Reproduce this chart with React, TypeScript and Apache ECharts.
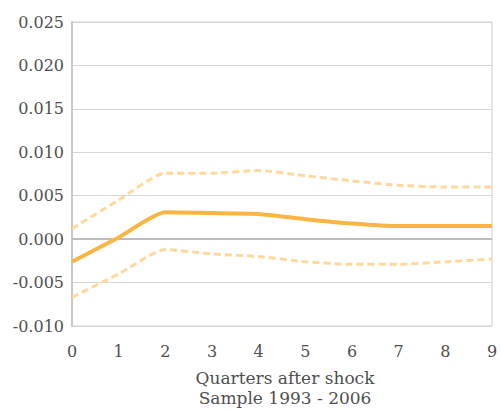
import React, { useEffect, useRef } from "react";
import * as echarts from "echarts";

const quarters = ["0", "1", "2", "3", "4", "5", "6", "7", "8", "9"];
const response = [-0.0026, 0.0002, 0.0031, 0.003, 0.0029, 0.0023, 0.0018, 0.0015, 0.0015, 0.0015];
const upperBand = [0.0012, 0.0045, 0.0076, 0.0076, 0.0079, 0.0073, 0.0067, 0.0062, 0.006, 0.006];
const lowerBand = [-0.0067, -0.004, -0.0012, -0.0017, -0.002, -0.0026, -0.0029, -0.0029, -0.0026, -0.0023];
const axisTitle = "Quarters after shock\nSample 1993 - 2006";

const FONT = "DejaVu Serif";
const TEXT = "#4F4F4F";

export default function App() {
  const ref = useRef<HTMLDivElement>(null);
  useEffect(() => {
    if (!ref.current) return;
    const chart = echarts.init(ref.current, null, { renderer: "svg" });
    const dashed = {
      type: "line",
      symbol: "none",
      smooth: 0.2,
      silent: true,
      lineStyle: { color: "#FFD89C", width: 3, type: [7, 4] },
    };
    chart.setOption({
      animation: false,
      grid: {
        left: 72,
        right: 9,
        top: 22,
        bottom: 84,
        show: true,
        borderColor: "#D0D0D0",
        borderWidth: 1,
      },
      xAxis: {
        type: "category",
        data: quarters,
        boundaryGap: false,
        axisLine: { show: false },
        axisTick: { show: false },
        splitLine: { show: false },
        axisLabel: { color: TEXT, fontFamily: FONT, fontSize: 16, margin: 17 },
      },
      yAxis: {
        type: "value",
        min: -0.01,
        max: 0.025,
        interval: 0.005,
        axisLine: { show: true, lineStyle: { color: "#C8C8C8", width: 2 } },
        axisTick: { show: false },
        splitLine: { lineStyle: { color: "#D6D6D6", width: 1 } },
        axisLabel: {
          color: TEXT,
          fontFamily: FONT,
          fontSize: 16,
          margin: 8,
          formatter: (v: number) => v.toFixed(3),
        },
      },
      graphic: [
        {
          type: "text",
          x: 285,
          y: 388,
          style: {
            text: axisTitle,
            align: "center",
            verticalAlign: "middle",
            lineHeight: 20,
            fill: TEXT,
            font: `17px "${FONT}"`,
          },
        },
      ],
      series: [
        { ...dashed, name: "upper", data: upperBand },
        { ...dashed, name: "lower", data: lowerBand },
        {
          type: "line",
          name: "response",
          symbol: "none",
          smooth: 0.2,
          lineStyle: { color: "#FBB544", width: 4 },
          data: response,
          z: 3,
          markLine: {
            silent: true,
            symbol: "none",
            label: { show: false },
            lineStyle: { color: "#BDBDBD", width: 2, type: "solid" },
            data: [{ yAxis: 0 }],
            z: 1,
          },
        },
      ],
    });
    return () => chart.dispose();
  }, []);
  return <div ref={ref} style={{ width: 501, height: 410, position: "absolute", left: 0, top: 0 }} />;
}
